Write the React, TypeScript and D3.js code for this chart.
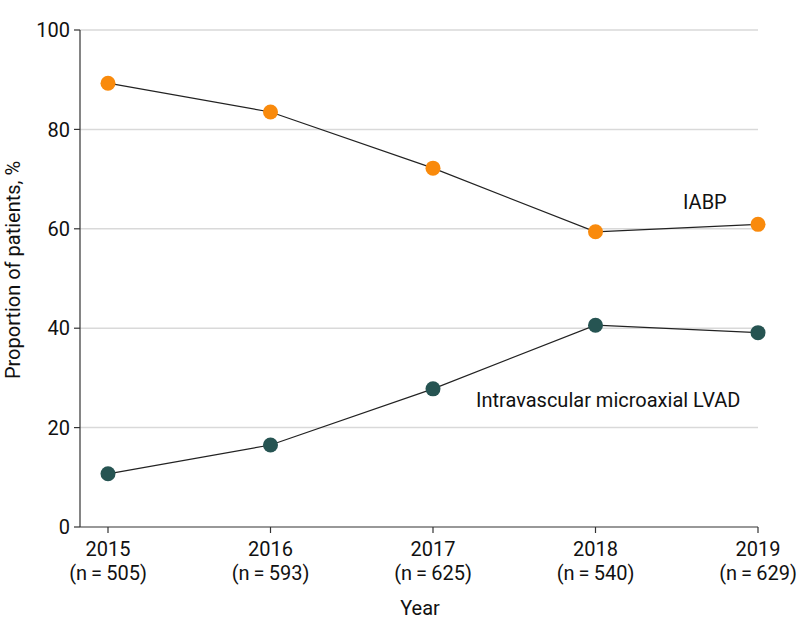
import React from "react";
import * as d3 from "d3";

const years = ["2015", "2016", "2017", "2018", "2019"];
const nLabels = ["(n\u2009=\u2009505)", "(n\u2009=\u2009593)", "(n\u2009=\u2009625)", "(n\u2009=\u2009540)", "(n\u2009=\u2009629)"];
const iabp = [89.3, 83.5, 72.2, 59.4, 60.9];
const lvad = [10.7, 16.5, 27.8, 40.6, 39.1];
const yTicks = [0, 20, 40, 60, 80, 100];

const W = 798;
const H = 636;
const FONT = "Roboto, 'Open Sans', sans-serif";
const FS = 20;

export default function App() {
  const x = d3.scalePoint<string>().domain(years).range([108, 758]);
  const y = d3.scaleLinear().domain([0, 100]).range([527, 30]);
  const line = d3
    .line<number>()
    .x((_, i) => x(years[i]) as number)
    .y((d) => y(d));
  const series = [
    { vals: iabp, color: "#F98A0C" },
    { vals: lvad, color: "#265452" },
  ];
  return (
    <svg
      width={W}
      height={H}
      style={{ position: "absolute", left: 0, top: 0, background: "#fff" }}
      fontFamily={FONT}
    >
      {yTicks.map((t) => (
        <g key={t}>
          {t > 0 && (
            <line x1={80} x2={758} y1={y(t)} y2={y(t)} stroke="#d9d9d9" strokeWidth={1.5} />
          )}
          <line x1={74} x2={80} y1={y(t)} y2={y(t)} stroke="#333" strokeWidth={1.2} />
          <text x={70} y={y(t)} dy="0.36em" textAnchor="end" fontSize={FS} fill="#111">
            {t}
          </text>
        </g>
      ))}
      <line x1={80} x2={80} y1={y(100)} y2={y(0)} stroke="#333" strokeWidth={1.2} />
      <line x1={80} x2={758} y1={y(0)} y2={y(0)} stroke="#333" strokeWidth={1.2} />
      {years.map((yr, i) => (
        <g key={yr}>
          <line x1={x(yr)} x2={x(yr)} y1={y(0)} y2={y(0) + 6} stroke="#333" strokeWidth={1.2} />
          <text x={x(yr)} y={556} textAnchor="middle" fontSize={FS} fill="#111">
            {yr}
          </text>
          <text x={x(yr)} y={580} textAnchor="middle" fontSize={FS} fill="#111">
            {nLabels[i]}
          </text>
        </g>
      ))}
      <text x={420} y={615} textAnchor="middle" fontSize={FS} fill="#111">
        Year
      </text>
      <text
        transform={`translate(20, 270) rotate(-90)`}
        textAnchor="middle"
        fontSize={FS}
        fill="#111"
      >
        Proportion of patients, %
      </text>
      {series.map((s, si) => (
        <g key={si}>
          <path d={line(s.vals) || ""} fill="none" stroke="#222" strokeWidth={1.2} />
          {s.vals.map((v, i) => (
            <circle key={i} cx={x(years[i])} cy={y(v)} r={7.5} fill={s.color} />
          ))}
        </g>
      ))}
      <text x={683} y={209} fontSize={FS} fill="#111">
        IABP
      </text>
      <text x={476} y={407} fontSize={FS} fill="#111">
        Intravascular microaxial LVAD
      </text>
    </svg>
  );
}
